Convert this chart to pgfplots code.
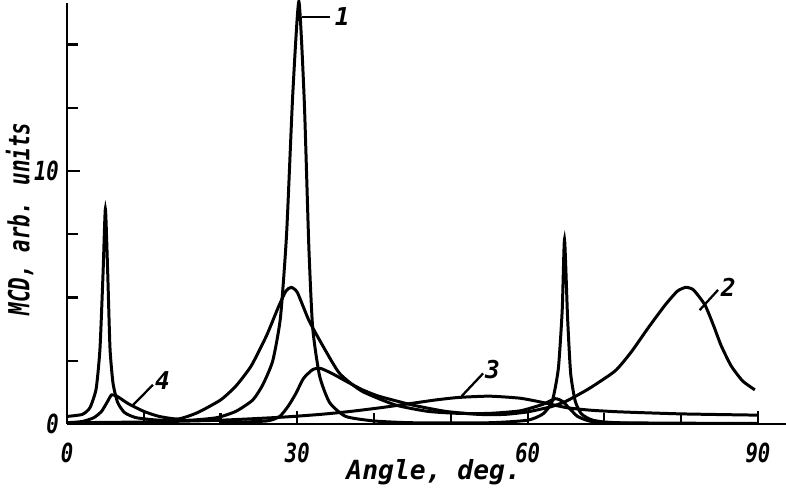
\documentclass[border=0pt]{standalone}
\usepackage{graphicx}
\usepackage{pgfplots}
\pgfplotsset{compat=1.18}
\usepackage{fontspec}
\setmainfont{DejaVu Sans Mono}

% curves (angle in deg, MCD in arb. units)
\pgfplotstableread{
x y
0 0.30
2 0.38
3 0.65
3.8 1.4
4.3 3.0
4.7 6.0
5.0 8.5
5.3 6.0
5.6 3.0
6.0 1.6
6.6 0.85
7.5 0.45
9 0.25
12 0.15
16 0.15
19.5 0.25
22 0.5
24.2 0.95
25.5 1.55
26.8 2.5
27.8 4.2
28.6 7.5
29.4 13.0
30.2 16.7
30.9 12.8
31.5 7.0
32.0 3.8
32.9 1.9
34.2 0.85
36.3 0.3
40 0.12
45 0.05
55 0.05
60 0.15
62 0.4
63.2 0.9
64.0 2.2
64.5 4.5
64.8 7.3
65.2 4.2
65.6 2.0
66.2 0.9
67 0.4
68.5 0.15
72 0.05
90 0.02
}\curveone

\pgfplotstableread{
x y
20 0.05
26 0.12
27.7 0.3
28.8 0.7
29.8 1.2
30.8 1.8
32 2.15
33 2.2
34.5 2.0
36.3 1.7
38.5 1.35
40.6 1.1
45 0.75
49.3 0.5
53.6 0.38
57 0.38
60 0.48
63 0.68
65 0.9
68 1.4
71.4 2.1
73.5 2.85
75.7 3.8
77.9 4.7
79.5 5.25
80.6 5.4
81.6 5.3
83.1 4.7
84.2 3.9
85.2 3.1
86.5 2.3
88 1.7
89.6 1.35
}\curvetwo

\pgfplotstableread{
x y
0 0.05
10 0.08
20 0.15
28 0.27
33 0.38
37 0.5
41 0.65
45 0.82
48 0.95
51 1.05
55 1.1
59 1.02
62 0.85
65 0.65
68 0.55
72 0.48
80 0.4
90 0.35
}\curvethree

\pgfplotstableread{
x y
0 0.05
2 0.1
3.5 0.25
4.5 0.5
5.3 0.9
5.8 1.15
6.5 1.1
8 0.8
10 0.5
12 0.3
14.5 0.2
17 0.45
20 0.95
22 1.5
24 2.3
26 3.5
27.5 4.6
28.5 5.25
29.2 5.4
30 5.2
31.5 4.1
33.3 3.1
35.5 2.0
38.4 1.3
42.8 0.75
47 0.5
51 0.42
55 0.42
59 0.52
62 0.78
63.6 1.0
64.5 0.9
65.5 0.6
66.5 0.3
68 0.12
70 0.05
75 0.02
}\curvefour

\newcommand{\nar}[1]{\scalebox{0.78}[1]{#1}}

\begin{document}
\begin{tikzpicture}
\begin{axis}[
  scale only axis, width=14.38cm, height=8.42cm,
  xmin=0, xmax=93.65, ymin=0, ymax=16.64,
  axis x line=bottom, axis y line=left,
  axis line style={-, line width=1.5pt},
  xtick={0,30,60,90}, minor xtick={10,20,40,50,70,80},
  ytick={0,10}, minor ytick={2.5,5,7.5,12.5,15},
  xticklabels={\nar{0},\nar{30},\nar{60},\nar{90}},
  yticklabels={\nar{0},\nar{10}},
  tick align=inside, major tick length=0.26cm, minor tick length=0.22cm,
  tick style={line width=1.2pt, black},
  font=\fontsize{14}{16}\selectfont\bfseries\itshape,
  xticklabel style={yshift=-0.25cm, font=\fontsize{15}{16}\selectfont\bfseries\itshape},
  yticklabel style={xshift=-0.04cm, font=\fontsize{15}{16}\selectfont\bfseries\itshape},
  xlabel={Angle, deg.},
  ylabel={\scalebox{0.72}[1]{MCD, arb. units}},
  xlabel style={at={(axis description cs:0.51,0)}, anchor=center, yshift=-0.96cm,
    font=\fontsize{15}{16}\selectfont\bfseries\itshape},
  ylabel style={at={(axis description cs:0,0.487)}, anchor=center, yshift=0.95cm,
    font=\fontsize{16.5}{18}\selectfont\bfseries\itshape},
  clip=false,
  cycle list={{black}}, no markers,
  every axis plot/.append style={line width=1.7pt, smooth, tension=0.35},
]
\addplot table {\curveone};
\addplot table {\curvetwo};
\addplot table {\curvethree};
\addplot table {\curvefour};

% curve numbers with leader lines
\draw[line width=1.3pt] (axis cs:30.6,16.1) -- (axis cs:34.2,16.1);
\node[anchor=west, inner sep=1pt] at (axis cs:34.6,16.1) {1};
\draw[line width=1.3pt] (axis cs:82.4,4.5) -- (axis cs:84.8,5.3);
\node[anchor=west, inner sep=1pt] at (axis cs:84.9,5.4) {2};
\draw[line width=1.3pt] (axis cs:51.4,1.1) -- (axis cs:54.2,2.0);
\node[anchor=west, inner sep=1pt] at (axis cs:54.2,2.15) {3};
\draw[line width=1.3pt] (axis cs:8.6,0.75) -- (axis cs:11.2,1.55);
\node[anchor=west, inner sep=1pt] at (axis cs:11.2,1.7) {4};

\coordinate (ll) at (rel axis cs:0,0);
\coordinate (ur) at (rel axis cs:1,1);
\end{axis}
\pgfresetboundingbox
\path[use as bounding box] ([shift={(-1.34cm,-1.28cm)}]ll) rectangle ([shift={(0,0.06cm)}]ur);
\end{tikzpicture}
\end{document}
